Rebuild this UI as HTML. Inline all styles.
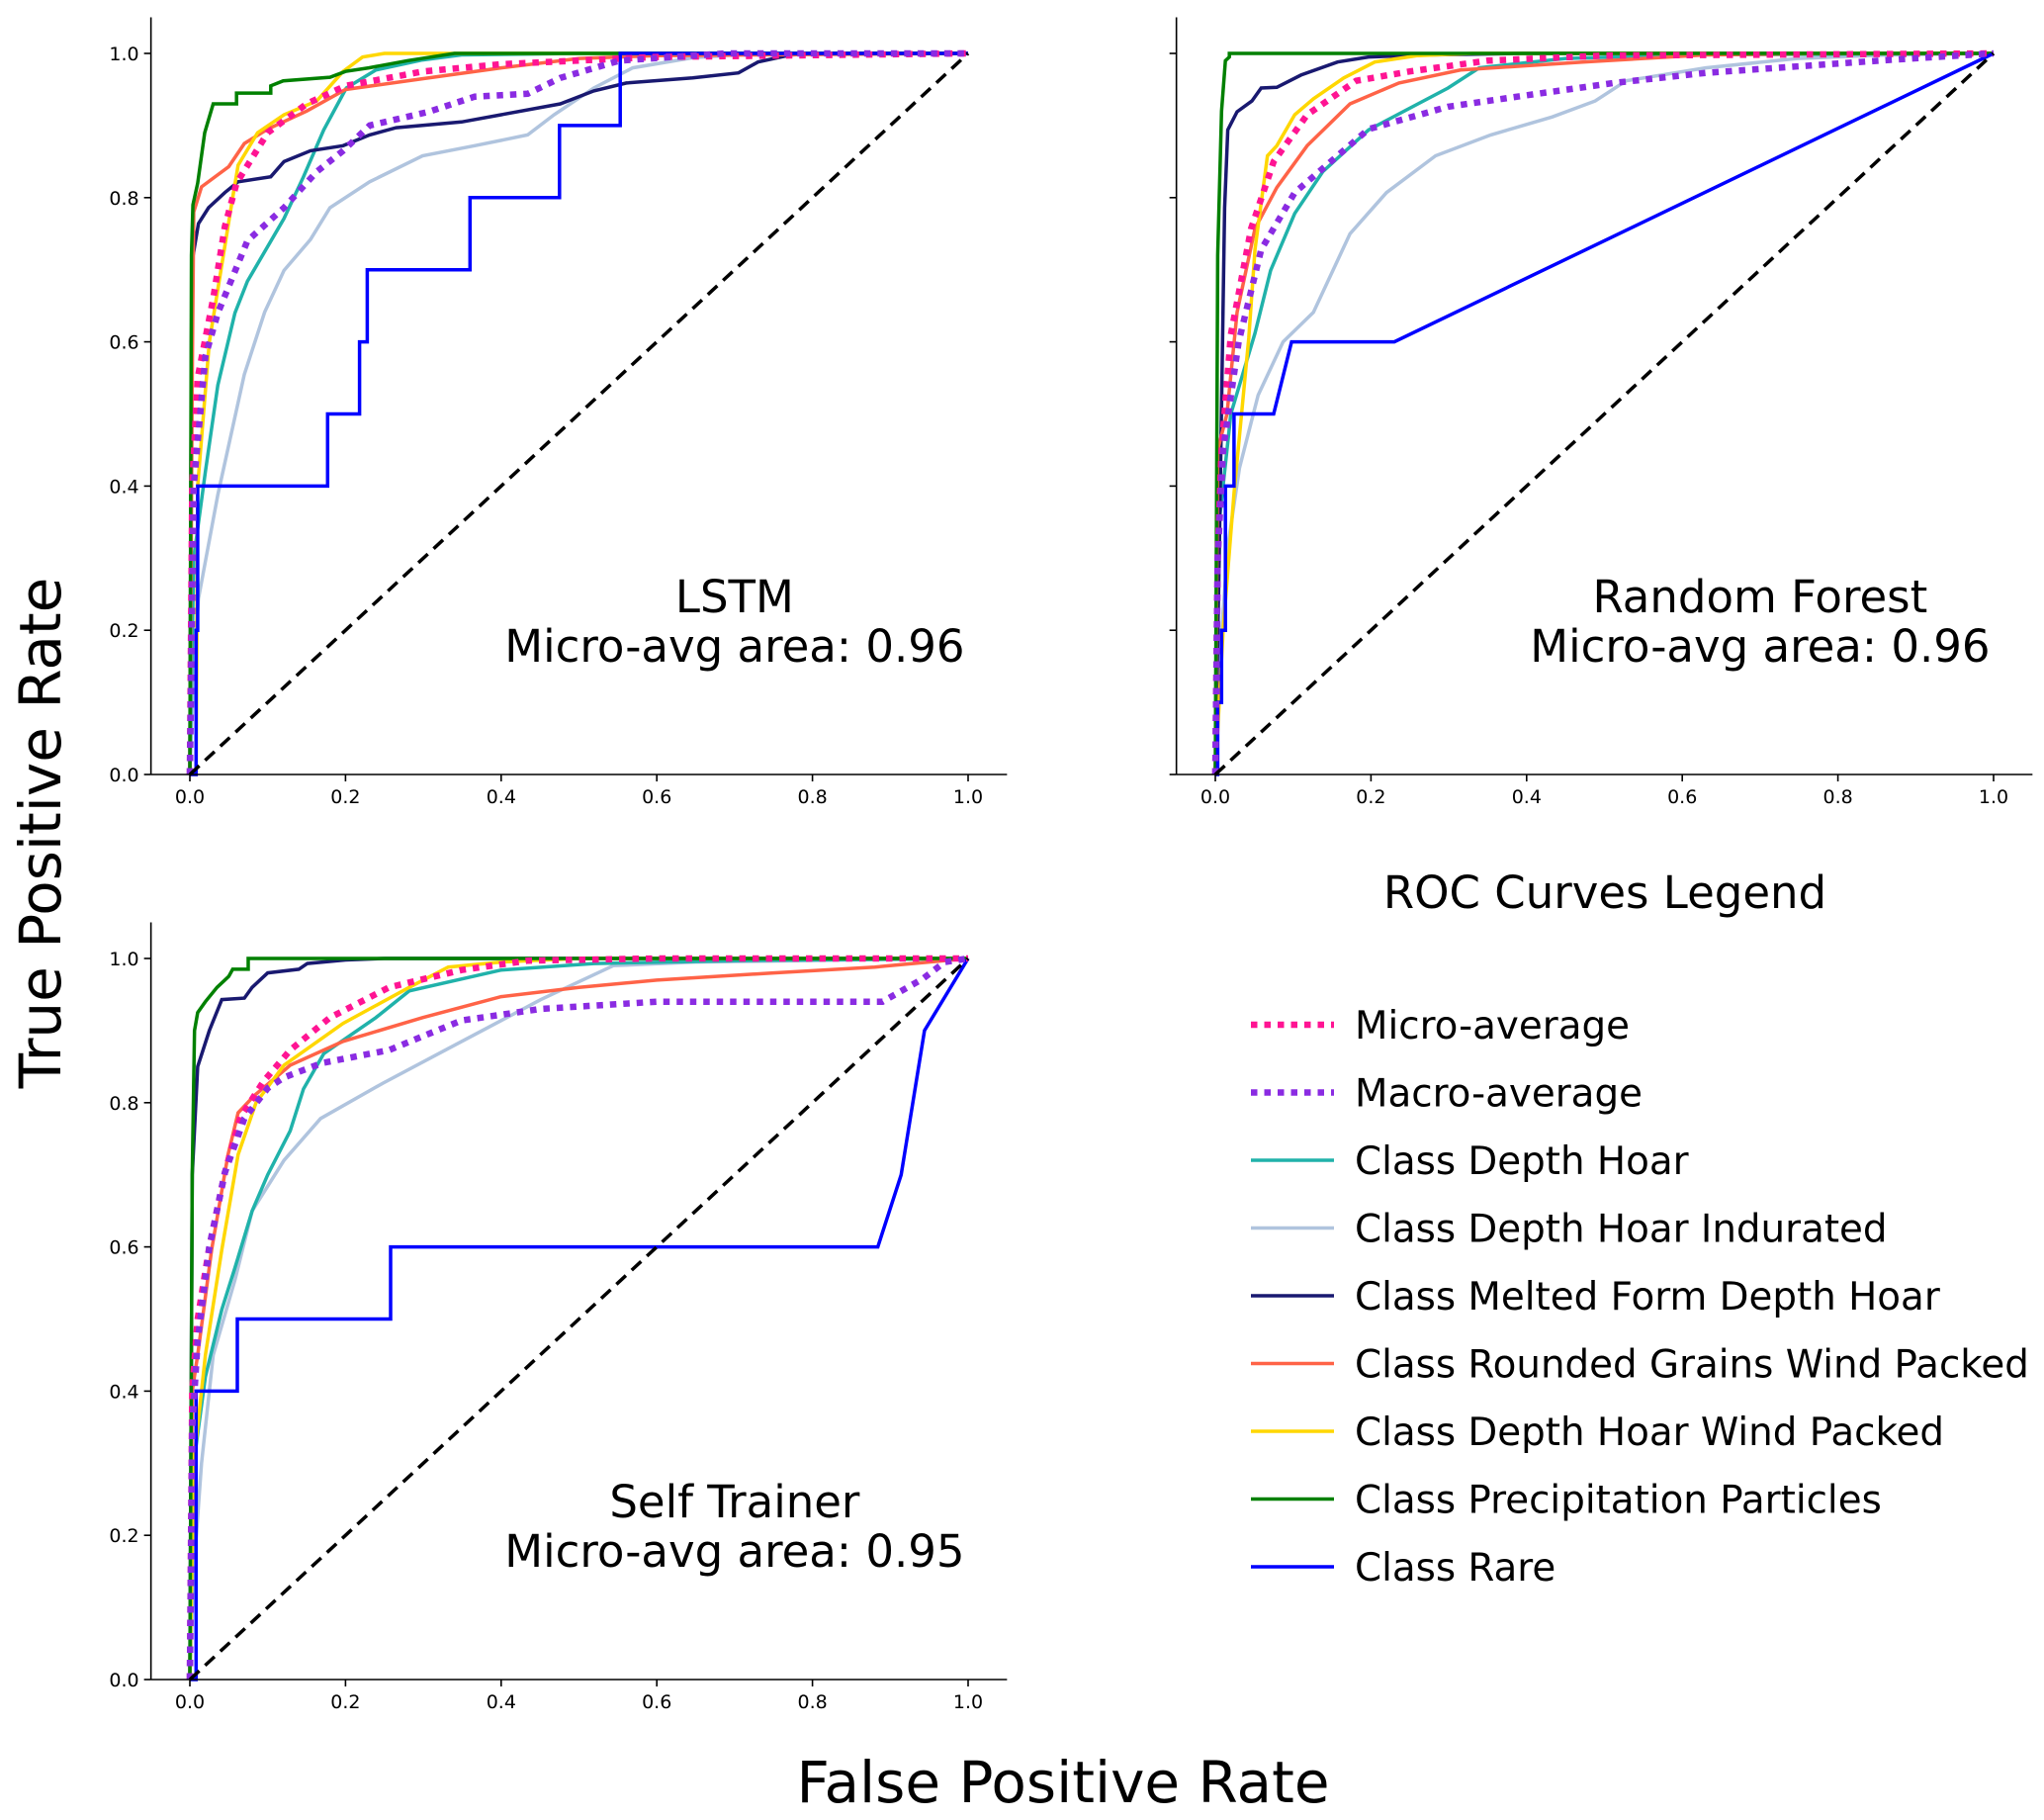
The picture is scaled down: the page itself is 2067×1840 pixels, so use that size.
<!DOCTYPE html>
<html><head><meta charset="utf-8"><style>
html,body{margin:0;padding:0;background:#fff;}
svg{display:block;font-family:"DejaVu Sans","Liberation Sans",sans-serif;}
</style></head><body>
<svg id="fig" width="2067" height="1840" viewBox="0 0 2067 1840" xmlns="http://www.w3.org/2000/svg">
<text x="0" y="0" transform="translate(61,842) rotate(-90)" font-size="58" text-anchor="middle">True Positive Rate</text>
<text x="1075" y="1822" font-size="58" text-anchor="middle">False Positive Rate</text>
<text x="1623" y="918" font-size="45" text-anchor="middle">ROC Curves Legend</text>
</svg>
<script>
const ticks = [0, 0.2, 0.4, 0.6, 0.8, 1.0];
const tickLabels = ["0.0", "0.2", "0.4", "0.6", "0.8", "1.0"];
const seriesNames = ["Micro-average","Macro-average","Class Depth Hoar","Class Depth Hoar Indurated","Class Melted Form Depth Hoar","Class Rounded Grains Wind Packed","Class Depth Hoar Wind Packed","Class Precipitation Particles","Class Rare"];
const seriesKeys = ["micro","macro","dh","dhi","mfdh","rgwp","dhwp","pp","rare"];
const panelTitles = ["LSTM","Random Forest","Self Trainer"];
const panelAUC = ["0.96","0.96","0.95"];

const lstmMicro = [[0,0],[0.003,0.4],[0.01,0.55],[0.03,0.66],[0.045,0.76],[0.06,0.82],[0.1,0.89],[0.15,0.93],[0.2,0.955],[0.3,0.975],[0.4,0.985],[0.6,0.995],[1,1]];
const lstmMacro = [[0,0],[0.005,0.4],[0.02,0.58],[0.036,0.64],[0.074,0.74],[0.121,0.786],[0.163,0.836],[0.197,0.865],[0.231,0.9],[0.307,0.919],[0.366,0.94],[0.434,0.944],[0.476,0.966],[0.552,0.99],[0.688,1],[1,1]];
const lstmDH = [[0,0],[0.005,0.3],[0.02,0.42],[0.036,0.54],[0.058,0.64],[0.074,0.684],[0.121,0.771],[0.146,0.829],[0.172,0.894],[0.201,0.952],[0.239,0.977],[0.299,0.991],[0.349,0.998],[0.5,1],[1,1]];
const lstmDHI = [[0,0],[0.005,0.15],[0.011,0.244],[0.036,0.388],[0.07,0.555],[0.096,0.641],[0.121,0.699],[0.155,0.742],[0.18,0.786],[0.231,0.822],[0.299,0.858],[0.366,0.872],[0.434,0.887],[0.468,0.915],[0.519,0.952],[0.569,0.98],[0.646,0.994],[0.73,1],[1,1]];
const lstmMFDH = [[0,0],[0.002,0.6],[0.003,0.713],[0.011,0.764],[0.024,0.786],[0.045,0.807],[0.062,0.822],[0.104,0.829],[0.121,0.85],[0.155,0.865],[0.197,0.872],[0.231,0.887],[0.265,0.897],[0.349,0.905],[0.4,0.915],[0.476,0.93],[0.519,0.948],[0.561,0.959],[0.646,0.966],[0.705,0.973],[0.73,0.988],[0.772,0.998],[0.815,1],[1,1]];
const lstmRGWP = [[0,0],[0.003,0.55],[0.005,0.78],[0.015,0.815],[0.05,0.843],[0.07,0.875],[0.1,0.895],[0.15,0.92],[0.2,0.95],[0.3,0.965],[0.4,0.98],[0.5,0.993],[0.6,0.997],[1,1]];
const lstmDHWP = [[0,0],[0.008,0],[0.01,0.4],[0.025,0.6],[0.04,0.7],[0.055,0.8],[0.062,0.845],[0.087,0.89],[0.121,0.915],[0.163,0.934],[0.197,0.975],[0.222,0.995],[0.25,1],[1,1]];
const lstmPP = [[0,0],[0.002,0.72],[0.004,0.79],[0.01,0.82],[0.019,0.89],[0.03,0.93],[0.06,0.93],[0.06,0.945],[0.104,0.945],[0.104,0.955],[0.12,0.962],[0.18,0.967],[0.2,0.975],[0.23,0.98],[0.28,0.99],[0.34,1],[1,1]];
const lstmRare = [[0,0],[0.008,0],[0.008,0.2],[0.01,0.2],[0.01,0.4],[0.177,0.4],[0.177,0.5],[0.218,0.5],[0.218,0.6],[0.228,0.6],[0.228,0.7],[0.36,0.7],[0.36,0.8],[0.475,0.8],[0.475,0.9],[0.553,0.9],[0.553,1],[1,1]];

const rfMicro = [[0,0],[0.003,0.3],[0.008,0.45],[0.02,0.61],[0.046,0.757],[0.075,0.85],[0.118,0.915],[0.181,0.962],[0.25,0.975],[0.35,0.99],[0.5,0.997],[1,1]];
const rfMacro = [[0,0],[0.003,0.3],[0.01,0.45],[0.03,0.6],[0.059,0.728],[0.102,0.807],[0.157,0.858],[0.197,0.895],[0.299,0.926],[0.394,0.941],[0.512,0.959],[0.63,0.973],[0.866,0.991],[1,1]];
const rfDH = [[0,0],[0.005,0.35],[0.02,0.5],[0.051,0.612],[0.071,0.699],[0.102,0.778],[0.138,0.836],[0.197,0.894],[0.299,0.952],[0.339,0.98],[0.45,0.993],[0.6,0.998],[1,1]];
const rfDHI = [[0,0],[0.005,0.15],[0.016,0.316],[0.031,0.425],[0.055,0.526],[0.087,0.6],[0.126,0.641],[0.173,0.75],[0.22,0.807],[0.283,0.858],[0.354,0.887],[0.433,0.912],[0.488,0.934],[0.528,0.962],[0.63,0.98],[0.748,0.993],[0.866,0.998],[1,1]];
const rfMFDH = [[0,0],[0.005,0.3],[0.012,0.786],[0.016,0.894],[0.028,0.919],[0.047,0.934],[0.059,0.952],[0.079,0.953],[0.11,0.97],[0.157,0.988],[0.197,0.995],[0.276,0.998],[0.394,1],[1,1]];
const rfRGWP = [[0,0],[0.003,0.45],[0.015,0.5],[0.028,0.641],[0.051,0.757],[0.079,0.814],[0.118,0.872],[0.173,0.93],[0.236,0.959],[0.315,0.977],[0.472,0.988],[0.63,0.998],[0.787,1],[1,1]];
const rfDHWP = [[0,0],[0.01,0.2],[0.024,0.39],[0.043,0.605],[0.051,0.728],[0.067,0.858],[0.079,0.872],[0.102,0.915],[0.126,0.937],[0.165,0.966],[0.205,0.988],[0.26,0.997],[0.33,1],[1,1]];
const rfPP = [[0,0],[0.003,0.72],[0.008,0.92],[0.013,0.99],[0.018,0.995],[0.018,1],[1,1]];
const rfRare = [[0,0],[0.003,0],[0.003,0.1],[0.008,0.1],[0.008,0.2],[0.013,0.2],[0.013,0.4],[0.024,0.4],[0.024,0.5],[0.075,0.5],[0.098,0.6],[0.23,0.6],[1,1]];

const stMicro = [[0,0],[0.003,0.4],[0.01,0.5],[0.025,0.6],[0.045,0.703],[0.065,0.78],[0.095,0.83],[0.129,0.873],[0.18,0.918],[0.256,0.96],[0.349,0.984],[0.434,0.997],[0.6,1],[1,1]];
const stMacro = [[0,0],[0.003,0.35],[0.01,0.47],[0.025,0.6],[0.045,0.703],[0.07,0.778],[0.1,0.82],[0.121,0.835],[0.17,0.855],[0.256,0.873],[0.349,0.914],[0.451,0.93],[0.6,0.94],[0.89,0.94],[0.942,0.972],[0.97,0.995],[1,1]];
const stDH = [[0,0],[0.005,0.3],[0.02,0.42],[0.041,0.513],[0.058,0.571],[0.08,0.65],[0.1,0.7],[0.129,0.761],[0.146,0.819],[0.172,0.868],[0.239,0.918],[0.282,0.955],[0.4,0.984],[0.519,0.993],[0.7,0.997],[1,1]];
const stDHI = [[0,0],[0.005,0.15],[0.015,0.3],[0.03,0.45],[0.058,0.554],[0.08,0.65],[0.121,0.72],[0.168,0.778],[0.248,0.827],[0.332,0.875],[0.451,0.943],[0.544,0.99],[0.65,0.995],[1,1]];
const stMFDH = [[0,0],[0.003,0.7],[0.01,0.85],[0.025,0.9],[0.041,0.943],[0.07,0.945],[0.08,0.96],[0.1,0.98],[0.14,0.985],[0.151,0.993],[0.2,0.998],[0.25,1],[1,1]];
const stRGWP = [[0,0],[0.003,0.4],[0.01,0.45],[0.028,0.596],[0.049,0.728],[0.062,0.786],[0.083,0.81],[0.129,0.852],[0.197,0.885],[0.299,0.918],[0.4,0.947],[0.5,0.96],[0.6,0.97],[0.75,0.98],[0.88,0.988],[0.95,0.995],[1,1]];
const stDHWP = [[0,0],[0.005,0.3],[0.02,0.45],[0.041,0.596],[0.062,0.728],[0.085,0.8],[0.121,0.852],[0.197,0.91],[0.282,0.96],[0.332,0.988],[0.4,0.995],[0.5,1],[1,1]];
const stPP = [[0,0],[0.003,0.7],[0.006,0.9],[0.01,0.925],[0.02,0.94],[0.035,0.96],[0.05,0.975],[0.055,0.985],[0.075,0.985],[0.075,1],[1,1]];
const stRare = [[0,0],[0.008,0],[0.008,0.4],[0.061,0.4],[0.061,0.5],[0.258,0.5],[0.258,0.6],[0.884,0.6],[0.914,0.7],[0.944,0.9],[1,1]];

const panelData = [
  [lstmMicro,lstmMacro,lstmDH,lstmDHI,lstmMFDH,lstmRGWP,lstmDHWP,lstmPP,lstmRare],
  [rfMicro,rfMacro,rfDH,rfDHI,rfMFDH,rfRGWP,rfDHWP,rfPP,rfRare],
  [stMicro,stMacro,stDH,stDHI,stMFDH,stRGWP,stDHWP,stPP,stRare]
];

const colors = ["#ff1493","#8a2be2","#20b2aa","#b0c4de","#191970","#ff6347","#ffd700","#008000","#0000ff"];
const dotted = [true,true,false,false,false,false,false,false,false];
const drawOrder = [3,2,4,5,6,7,8,0,1];
const panels = [
  {x0:192, x1:979, y0:783, y1:54, labels:true},
  {x0:1229, x1:2016, y0:783, y1:54, labels:false},
  {x0:192, x1:979, y0:1698, y1:969, labels:true}
];
const NS = "http://www.w3.org/2000/svg";
const svg = document.getElementById("fig");
function mk(tag, attrs, parent){
  const e = document.createElementNS(NS, tag);
  for (const k in attrs) e.setAttribute(k, attrs[k]);
  (parent||svg).appendChild(e);
  return e;
}
panels.forEach((p, i) => {
  const sx = v => p.x0 + v*(p.x1-p.x0);
  const sy = v => p.y0 + v*(p.y1-p.y0);
  const g = mk("g", {});
  
  
  drawOrder.forEach(si => {
    const pts = panelData[i][si].map(d => sx(d[0]).toFixed(1)+","+sy(d[1]).toFixed(1)).join(" ");
    const pl = mk("polyline", {points: pts, fill:"none", stroke: colors[si],
      "stroke-width": dotted[si] ? 6.5 : 3.5, "stroke-linejoin":"miter"}, g);
    if (dotted[si]) pl.setAttribute("stroke-dasharray", "6.5 7");
    
    
  });
  const dg = mk("line", {x1:sx(0), y1:sy(0), x2:sx(1), y2:sy(1), stroke:"#000", "stroke-width":3.5, "stroke-dasharray":"13 8"}, g);
  
  
  const ys = mk("line", {x1:sx(-0.05), y1:sy(1.05), x2:sx(-0.05), y2:sy(0), stroke:"#000", "stroke-width":1.6}, g);
  
  
  const xs = mk("line", {x1:sx(-0.05), y1:sy(0), x2:sx(1.05), y2:sy(0), stroke:"#000", "stroke-width":1.6}, g);
  
  
  ticks.forEach((t, k) => {
    mk("line", {x1:sx(t), y1:sy(0), x2:sx(t), y2:sy(0)+7, stroke:"#000", "stroke-width":1.6}, g);
    const xl = mk("text", {x:sx(t), y:sy(0)+29, "font-size":19, "text-anchor":"middle"}, g);
    xl.textContent = tickLabels[k];
    
    
    mk("line", {x1:sx(-0.05), y1:sy(t), x2:sx(-0.05)-7, y2:sy(t), stroke:"#000", "stroke-width":1.6}, g);
    if (p.labels) {
      const yl = mk("text", {x:sx(-0.05)-12, y:sy(t)+7, "font-size":19, "text-anchor":"end"}, g);
      yl.textContent = tickLabels[k];
      
      
    }
  });
  const cx = sx(0.70);
  const t1 = mk("text", {x:cx, y:sy(0.2)-18, "font-size":45, "text-anchor":"middle"}, g);
  t1.textContent = panelTitles[i];
  
  
  const t2 = mk("text", {x:cx, y:sy(0.2)+32, "font-size":45, "text-anchor":"middle"}, g);
  t2.textContent = "Micro-avg area: " + panelAUC[i];
  
  
});
const lg = mk("g", {});


seriesNames.forEach((n, i) => {
  const y = 1036 + i*68.5;
  const e = mk("g", {}, lg);
  
  
  const l = mk("line", {x1:1265, y1:y, x2:1349, y2:y, stroke:colors[i], "stroke-width": dotted[i]?6.5:3.5}, e);
  if (dotted[i]) l.setAttribute("stroke-dasharray","6.5 7");
  const t = mk("text", {x:1370, y:y+14, "font-size":38.8}, e);
  t.textContent = n;
});
</script>
</body></html>
